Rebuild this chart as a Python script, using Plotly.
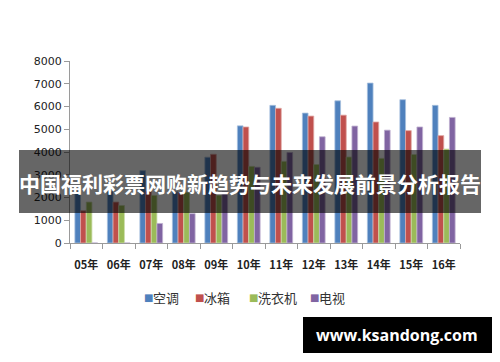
import plotly.graph_objects as go

categories = ["05年", "06年", "07年", "08年", "09年", "10年", "11年", "12年", "13年", "14年", "15年", "16年"]
series_names = ["空调", "冰箱", "洗衣机", "电视"]
ac = [2250, 2270, 3180, 2250, 3770, 5150, 6050, 5710, 6250, 7030, 6300, 6050]
fridge = [1420, 1800, 2270, 2200, 3900, 5100, 5920, 5580, 5620, 5320, 4940, 4720]
washer = [1800, 1650, 2090, 2230, 2100, 3370, 3590, 3450, 3780, 3720, 3890, 4130]
tv = [0, 0, 860, 1290, 2250, 3330, 3980, 4670, 5140, 4960, 5100, 5520]
y_ticks = [0, 1000, 2000, 3000, 4000, 5000, 6000, 7000, 8000]

colors = ["#4F81BD", "#C0504D", "#9BBB59", "#8064A2"]
edges = ["#A7C0DE", "#DFA8A6", "#CDDDAC", "#BFB1D0"]
title_text = "中国福利彩票网购新趋势与未来发展前景分析报告"
watermark = "www.ksandong.com"

W, H = 500, 362
L, R, T, B = 70, 40, 61, 119
PW, PH = W - L - R, H - T - B

def px(x):
    return (x - L) / PW

def py(y):
    return (H - B - y) / PH

fig = go.Figure()
for name, vals, c, e in zip(series_names, [ac, fridge, washer, tv], colors, edges):
    fig.add_trace(go.Bar(x=categories, y=vals, name=name, marker=dict(color=c, line=dict(color=e, width=0.8)),
                         showlegend=False))

fig.update_layout(
    width=W, height=H,
    margin=dict(l=L, r=R, t=T, b=B),
    paper_bgcolor="white", plot_bgcolor="white",
    barmode="group", bargap=0.3, bargroupgap=0,
    font=dict(family="Noto Sans CJK SC, DejaVu Sans", color="#333"),
    xaxis=dict(showgrid=False, showline=True, linecolor="#9a9a9a", linewidth=1,
               ticks="outside", tickson="boundaries", ticklen=5, tickcolor="#9a9a9a",
               tickangle=0, ticklabelstandoff=12,
               tickfont=dict(family="Noto Sans CJK SC", size=11, color="#222", weight="bold"),
               fixedrange=True),
    yaxis=dict(range=[0, 8000], tickvals=y_ticks, showgrid=False, zeroline=False,
               showline=True, linecolor="#9a9a9a", linewidth=1,
               ticks="outside", ticklen=5, tickcolor="#9a9a9a",
               tickfont=dict(family="DejaVu Sans", size=11, color="#222"),
               fixedrange=True),
)

# Legend (drawn as text)
legend_x = [142, 193, 247, 308]
for name, c, x0 in zip(series_names, colors, legend_x):
    fig.add_annotation(x=px(x0), y=py(297), xref="paper", yref="paper", xanchor="left", yanchor="middle",
                       text="■", showarrow=False, font=dict(family="DejaVu Sans", size=10, color=c))
    fig.add_annotation(x=px(x0 + 9), y=py(297), xref="paper", yref="paper", xanchor="left", yanchor="middle",
                       text=name, showarrow=False, font=dict(family="Noto Sans CJK SC", size=13, color="#333"))

# Dark overlay band with title
fig.add_shape(type="rect", xref="paper", yref="paper", x0=px(19), x1=px(481), y0=py(213), y1=py(150),
              fillcolor="rgba(0,0,0,0.6)", line=dict(width=0), layer="above")
fig.add_annotation(x=px(250), y=py(183), xref="paper", yref="paper", xanchor="center", yanchor="middle",
                   text="<b>" + title_text + "</b>", showarrow=False,
                   font=dict(family="Noto Sans CJK SC", size=21, color="white"))

# Watermark box
fig.add_shape(type="rect", xref="paper", yref="paper", x0=px(303), x1=px(492), y0=py(353), y1=py(317),
              fillcolor="black", line=dict(width=0), layer="above")
fig.add_annotation(x=px(397), y=py(335), xref="paper", yref="paper", xanchor="center", yanchor="middle",
                   text="<b>" + watermark + "</b>", showarrow=False,
                   font=dict(family="Open Sans", size=16, color="white"))

fig.write_html("out.html")
